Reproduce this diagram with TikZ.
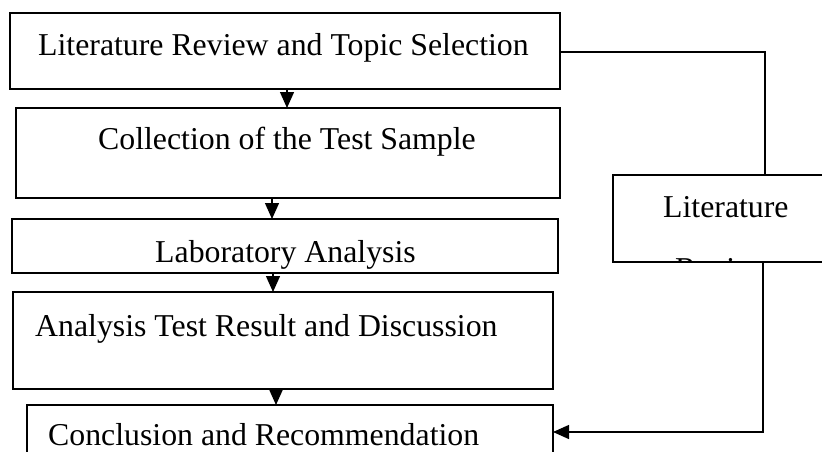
\documentclass[tikz,border=0pt]{standalone}
\usepackage{fontspec}
\setmainfont{Liberation Serif}
\usetikzlibrary{arrows.meta}
\begin{document}
\begin{tikzpicture}[x=1pt,y=-1pt,
  box/.style={draw, line width=1.7pt, rectangle, inner sep=0pt, outer sep=0pt, anchor=north west},
  lbl/.style={anchor=base west, inner sep=0pt, font=\fontsize{31.8}{38}\selectfont},
  arr/.style={line width=1.3pt, -{Triangle[width=14pt,length=16pt]}},
  wire/.style={line width=1.3pt}]
\useasboundingbox (0,0) rectangle (822,452);
\clip (0,0) rectangle (822,452);
% boxes
\node[box, minimum width=550pt, minimum height=76pt] (b1) at (10,13) {};
\node[box, minimum width=544pt, minimum height=90pt] (b2) at (16,108) {};
\node[box, minimum width=546pt, minimum height=54pt] (b3) at (12,219) {};
\node[box, minimum width=540pt, minimum height=97pt] (b4) at (13,292) {};
\node[box, minimum width=526pt, minimum height=65pt] (b5) at (27,405) {};
\node[box, minimum width=227pt, minimum height=87pt] (br) at (613,175) {};
% labels
\node[lbl] (t1) at (38,56) {Literature Review and Topic Selection};
\node[lbl] (t2) at (98,149) {Collection of the Test Sample};
\node[lbl] (t3) at (155,262) {Laboratory Analysis};
\node[lbl] (t4) at (35,336) {Analysis Test Result and Discussion};
\node[lbl] (t5) at (48,445) {Conclusion and Recommendation};
\node[lbl] (tr1) at (663,217) {Literature};
\begin{scope}
\clip (613,175) rectangle (822,261);
\node[lbl] (tr2) at (675,279) {Review};
\end{scope}
% vertical flow arrows
\coordinate (x1) at (287,0);
\coordinate (x2) at (272,0);
\coordinate (x3) at (273,0);
\coordinate (x4) at (276,0);
\draw[arr] (b1.south -| x1) -- (b2.north -| x1);
\draw[arr] (b2.south -| x2) -- (b3.north -| x2);
\draw[arr] (b3.south -| x3) -- (b4.north -| x3);
\draw[arr] (b4.south -| x4) -- (b5.north -| x4);
% side loop
\coordinate (c1) at (765,52);
\coordinate (c2) at (763,432);
\draw[wire] (b1.east |- c1) -- (c1) -- (c1 |- br.north);
\draw[arr] (c2 |- br.south) -- (c2) -- (b5.east |- c2);
\end{tikzpicture}
\end{document}
